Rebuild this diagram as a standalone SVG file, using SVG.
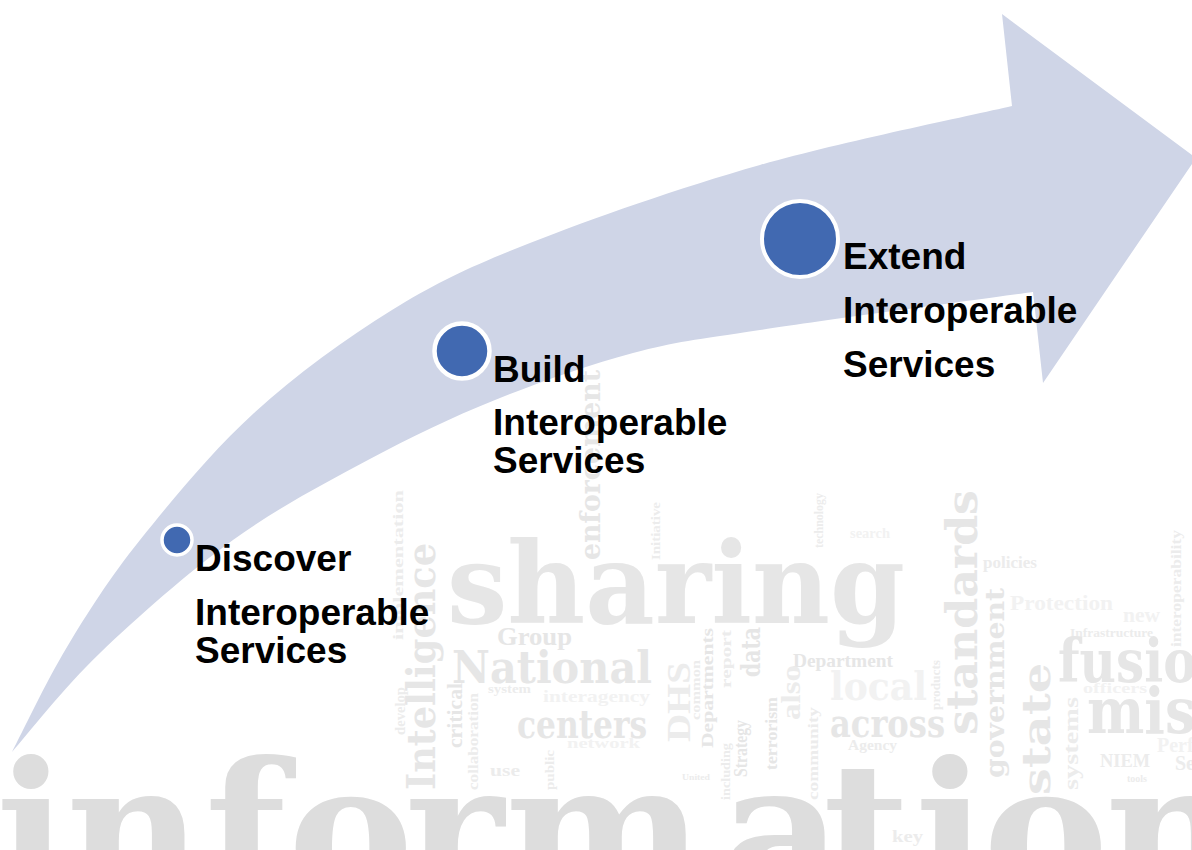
<svg xmlns="http://www.w3.org/2000/svg" width="1192" height="850" viewBox="0 0 1192 850">
<style>
.w{font-family:"Liberation Serif","Times New Roman",serif;font-weight:bold}
.h{font-family:"DejaVu Serif","Liberation Serif",serif;font-weight:bold}
.c1{fill:#dddddd}.c2{fill:#e6e6e6}.c3{fill:#ececec}.c4{fill:#f2f2f2}
.band{fill:#CFD5E7}
.dot{fill:#4169B1;stroke:#ffffff}
.lbl{font-family:"Liberation Sans",Arial,sans-serif;font-weight:bold;font-size:37px;fill:#000000}
</style>
<rect width="1192" height="850" fill="#ffffff"/>
<g id="wordcloud">
<text class="h c1" font-size="188" x="-4 66 205 288 405 505 721 823 915 983 1105" y="896">information</text>
<text class="h c2" font-size="112" x="447" y="623" textLength="458" lengthAdjust="spacingAndGlyphs">sharing</text>
<text class="h c2" font-size="44" x="452" y="683" textLength="200" lengthAdjust="spacingAndGlyphs">National</text>
<text class="w c2" font-size="26" x="497" y="645" textLength="75" lengthAdjust="spacingAndGlyphs">Group</text>
<text class="w c3" font-size="12" x="488" y="693" textLength="43" lengthAdjust="spacingAndGlyphs">system</text>
<text class="w c4" font-size="17" x="543" y="702" textLength="107" lengthAdjust="spacingAndGlyphs">interagency</text>
<text class="h c2" font-size="40" x="517" y="738" textLength="130" lengthAdjust="spacingAndGlyphs">centers</text>
<text class="w c4" font-size="15" x="567" y="748" textLength="73" lengthAdjust="spacingAndGlyphs">network</text>
<text class="w c3" font-size="17" x="490" y="776" textLength="30" lengthAdjust="spacingAndGlyphs">use</text>
<text class="w c3" font-size="9" x="682" y="780" textLength="28" lengthAdjust="spacingAndGlyphs">United</text>
<text class="w c2" font-size="19" x="793" y="667" textLength="100" lengthAdjust="spacingAndGlyphs">Department</text>
<text class="h c4" font-size="40" x="830" y="700" textLength="97" lengthAdjust="spacingAndGlyphs">local</text>
<text class="h c2" font-size="40" x="830" y="737" textLength="115" lengthAdjust="spacingAndGlyphs">across</text>
<text class="w c3" font-size="15" x="848" y="750" textLength="49" lengthAdjust="spacingAndGlyphs">Agency</text>
<text class="w c3" font-size="16" x="892" y="842" textLength="31" lengthAdjust="spacingAndGlyphs">key</text>
<text class="w c3" font-size="17" x="983" y="568" textLength="54" lengthAdjust="spacingAndGlyphs">policies</text>
<text class="w c4" font-size="14" x="850" y="538" textLength="40" lengthAdjust="spacingAndGlyphs">search</text>
<text class="w c4" font-size="22" x="1010" y="610" textLength="103" lengthAdjust="spacingAndGlyphs">Protection</text>
<text class="w c4" font-size="20" x="1123" y="622" textLength="37" lengthAdjust="spacingAndGlyphs">new</text>
<text class="w c3" font-size="12" x="1070" y="637" textLength="83" lengthAdjust="spacingAndGlyphs">Infrastructure</text>
<text class="h c2" font-size="60" x="1058" y="682" textLength="175" lengthAdjust="spacingAndGlyphs">fusion</text>
<text class="w c4" font-size="15" x="1083" y="693" textLength="64" lengthAdjust="spacingAndGlyphs">officers</text>
<text class="h c2" font-size="64" x="1087" y="733" textLength="235" lengthAdjust="spacingAndGlyphs">mission</text>
<text class="w c4" font-size="20" x="1157" y="752">Performance</text>
<text class="w c3" font-size="18" x="1100" y="767" textLength="50" lengthAdjust="spacingAndGlyphs">NIEM</text>
<text class="w c3" font-size="20" x="1175" y="770">Security</text>
<text class="w c3" font-size="10" x="1127" y="782">tools</text>
<g>
<text class="h c2" font-size="40" transform="translate(435,790) rotate(-90)" textLength="247" lengthAdjust="spacingAndGlyphs">Intelligence</text>
<text class="w c3" font-size="14" transform="translate(403,640) rotate(-90)" textLength="150" lengthAdjust="spacingAndGlyphs">implementation</text>
<text class="w c3" font-size="15" transform="translate(405,735) rotate(-90)" textLength="48" lengthAdjust="spacingAndGlyphs">develop</text>
<text class="w c2" font-size="21" transform="translate(462,748) rotate(-90)" textLength="65" lengthAdjust="spacingAndGlyphs">critical</text>
<text class="w c3" font-size="14" transform="translate(478,790) rotate(-90)" textLength="97" lengthAdjust="spacingAndGlyphs">collaboration</text>
<text class="h c2" font-size="28" transform="translate(600,560) rotate(-90)" textLength="190" lengthAdjust="spacingAndGlyphs">enforcement</text>
<text class="w c3" font-size="12" transform="translate(660,560) rotate(-90)" textLength="58" lengthAdjust="spacingAndGlyphs">Initiative</text>
<text class="w c3" font-size="34" transform="translate(690,742) rotate(-90)" textLength="80" lengthAdjust="spacingAndGlyphs">DHS</text>
<text class="w c3" font-size="13" transform="translate(700,720) rotate(-90)" textLength="60" lengthAdjust="spacingAndGlyphs">common</text>
<text class="w c2" font-size="17" transform="translate(713,748) rotate(-90)" textLength="120" lengthAdjust="spacingAndGlyphs">Departments</text>
<text class="w c3" font-size="14" transform="translate(731,688) rotate(-90)" textLength="58" lengthAdjust="spacingAndGlyphs">report</text>
<text class="w c3" font-size="13" transform="translate(730,800) rotate(-90)" textLength="57" lengthAdjust="spacingAndGlyphs">including</text>
<text class="w c2" font-size="18" transform="translate(747,777) rotate(-90)" textLength="57" lengthAdjust="spacingAndGlyphs">Strategy</text>
<text class="h c2" font-size="26" transform="translate(760,677) rotate(-90)" textLength="50" lengthAdjust="spacingAndGlyphs">data</text>
<text class="w c2" font-size="17" transform="translate(777,770) rotate(-90)" textLength="73" lengthAdjust="spacingAndGlyphs">terrorism</text>
<text class="w c3" font-size="27" transform="translate(800,720) rotate(-90)" textLength="55" lengthAdjust="spacingAndGlyphs">also</text>
<text class="w c3" font-size="15" transform="translate(818,800) rotate(-90)" textLength="93" lengthAdjust="spacingAndGlyphs">community</text>
<text class="w c3" font-size="12" transform="translate(823,548) rotate(-90)" textLength="55" lengthAdjust="spacingAndGlyphs">technology</text>
<text class="w c3" font-size="13" transform="translate(940,710) rotate(-90)" textLength="50" lengthAdjust="spacingAndGlyphs">products</text>
<text class="w c3" font-size="13" transform="translate(554,790) rotate(-90)" textLength="40" lengthAdjust="spacingAndGlyphs">public</text>
<text class="h c2" font-size="42" transform="translate(977,735) rotate(-90)" textLength="245" lengthAdjust="spacingAndGlyphs">standards</text>
<text class="h c2" font-size="26" transform="translate(1004,778) rotate(-90)" textLength="190" lengthAdjust="spacingAndGlyphs">government</text>
<text class="h c2" font-size="40" transform="translate(1050,795) rotate(-90)" textLength="132" lengthAdjust="spacingAndGlyphs">state</text>
<text class="w c3" font-size="20" transform="translate(1078,790) rotate(-90)" textLength="93" lengthAdjust="spacingAndGlyphs">systems</text>
<text class="w c3" font-size="15" transform="translate(1181,647) rotate(-90)" textLength="117" lengthAdjust="spacingAndGlyphs">interoperability</text>
</g>
</g>
<g id="connectors">
<path class="band" d="M12,752 C21.2,734.5 45.7,682.3 67,647 C88.3,611.7 108.8,579 140,540 C171.2,501 212,451.3 254,413 C296,374.7 346,338.3 392,310 C438,281.7 468.7,267.2 530,243 C591.3,218.8 679.7,187.8 760,165 C840.3,142.2 970,115.8 1012,106 L1002,14 L1196,158 L1043,383 L1033,292 C987.5,298.3 826.7,319.8 760,330 C693.3,340.2 677.2,341.3 633,353 C588.8,364.7 539.2,382.2 495,400 C450.8,417.8 411.7,436.7 368,460 C324.3,483.3 277.7,507.8 233,540 C188.3,572.2 136.8,617.7 100,653 C63.2,688.3 26.7,735.5 12,752 Z"/>
</g>
<g id="node-discover">
<circle class="dot" cx="177" cy="540" r="15" stroke-width="3.5"/>
<text class="lbl" x="195" y="571">Discover</text>
<text class="lbl" x="195" y="625">Interoperable</text>
<text class="lbl" x="195" y="663">Services</text>
</g>
<g id="node-build">
<circle class="dot" cx="462" cy="351" r="27.5" stroke-width="4.5"/>
<text class="lbl" x="493" y="382">Build</text>
<text class="lbl" x="493" y="435">Interoperable</text>
<text class="lbl" x="493" y="473">Services</text>
</g>
<g id="node-extend">
<circle class="dot" cx="800" cy="239" r="38" stroke-width="4"/>
<text class="lbl" x="843" y="269">Extend</text>
<text class="lbl" x="843" y="323">Interoperable</text>
<text class="lbl" x="843" y="377">Services</text>
</g>
</svg>
